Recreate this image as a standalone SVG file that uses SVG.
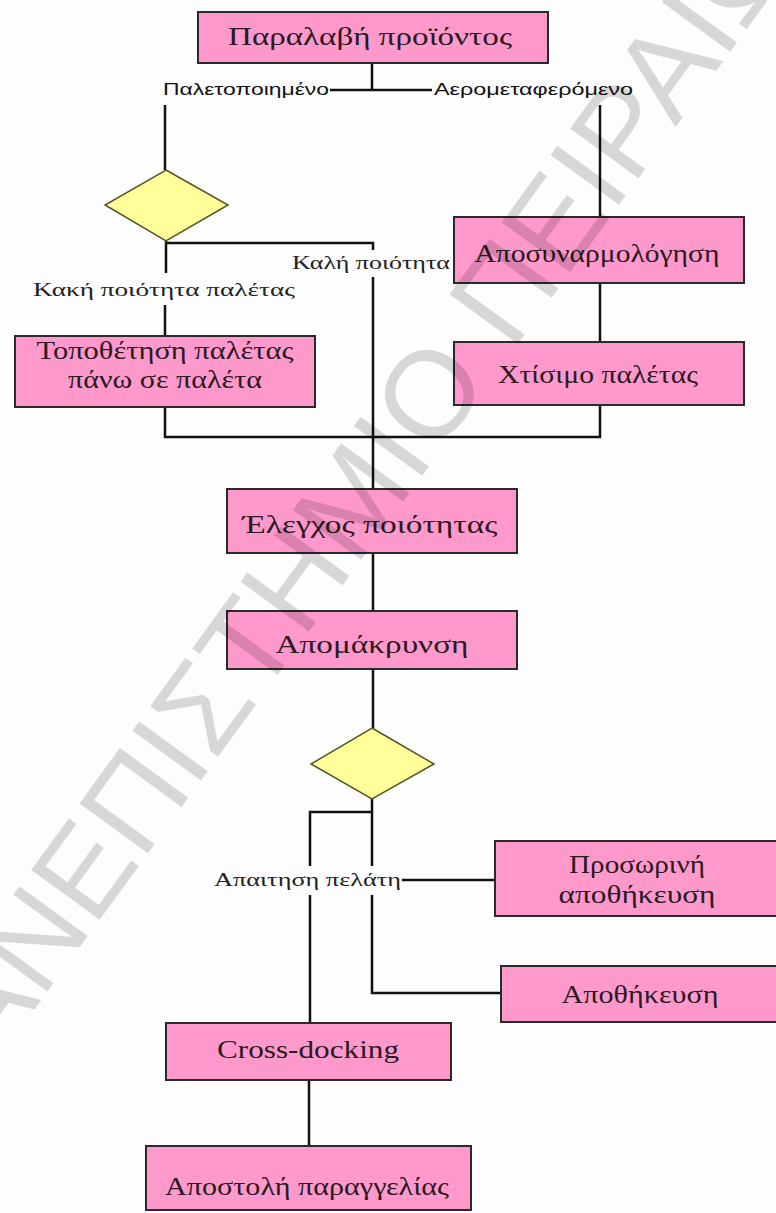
<svg xmlns="http://www.w3.org/2000/svg" width="776" height="1213" viewBox="0 0 776 1213">
<style>
.box{fill:#ff99cc;stroke:#2a2a2a;stroke-width:2}
.dia{fill:#ffff99;stroke:#55552a;stroke-width:1.5}
.ln{fill:none;stroke:#111;stroke-width:2.5}
.bt{font-family:"Liberation Serif","DejaVu Serif",serif;font-size:25px;fill:#2a1a22;text-anchor:middle}
.ls{font-family:"Liberation Sans","DejaVu Sans",sans-serif;font-size:16px;fill:#111}
.lt{font-family:"Liberation Serif","DejaVu Serif",serif;font-size:18px;fill:#222}
.wm{font-family:"Liberation Sans","DejaVu Sans",sans-serif;font-size:123px;fill:#000;fill-opacity:0.15}
</style>
<rect width="776" height="1213" fill="#fdfdfd"/>
<g id="connectors">
<path class="ln" d="M372,63V90M330,90H432"/>
<path class="ln" d="M165,105V170"/>
<path class="ln" d="M600,105V217"/>
<path class="ln" d="M166,241V273M166,243H373V250"/>
<path class="ln" d="M373,277V489"/>
<path class="ln" d="M165,305V336"/>
<path class="ln" d="M165,407V437H600V405"/>
<path class="ln" d="M600,283V342"/>
<path class="ln" d="M373,553V611"/>
<path class="ln" d="M373,669V728"/>
<path class="ln" d="M372,798V866M372,812H310V866"/>
<path class="ln" d="M310,895V1023"/>
<path class="ln" d="M372,895V993H501"/>
<path class="ln" d="M402,880H495"/>
<path class="ln" d="M309,1080V1146"/>
<text class="ls" x="163" y="95" textLength="166" lengthAdjust="spacingAndGlyphs">Παλετοποιημένο</text>
<text class="ls" x="434" y="95" textLength="199" lengthAdjust="spacingAndGlyphs">Αερομεταφερόμενο</text>
<text class="lt" x="292" y="269" textLength="158" lengthAdjust="spacingAndGlyphs">Καλή ποιότητα</text>
<text class="lt" x="33" y="296" textLength="262" lengthAdjust="spacingAndGlyphs">Κακή ποιότητα παλέτας</text>
<text class="lt" x="214" y="886" textLength="187" lengthAdjust="spacingAndGlyphs">Απαιτηση πελάτη</text>
</g>
<g id="n1"><rect class="box" x="198" y="12" width="350" height="51"/><text class="bt" x="370" y="45" textLength="284" lengthAdjust="spacingAndGlyphs">Παραλαβή προϊόντος</text></g>
<g id="d1"><polygon class="dia" points="166,170 228,205 166,241 105,205"/></g>
<g id="n2"><rect class="box" x="454" y="217" width="290" height="66"/><text class="bt" x="597" y="262" textLength="245" lengthAdjust="spacingAndGlyphs">Αποσυναρμολόγηση</text></g>
<g id="n3"><rect class="box" x="15" y="336" width="300" height="71"/><text class="bt" x="165" y="359" textLength="257" lengthAdjust="spacingAndGlyphs">Τοποθέτηση παλέτας</text><text class="bt" x="165" y="388" textLength="194" lengthAdjust="spacingAndGlyphs">πάνω σε παλέτα</text></g>
<g id="n4"><rect class="box" x="454" y="342" width="290" height="63"/><text class="bt" x="598" y="383" textLength="200" lengthAdjust="spacingAndGlyphs">Χτίσιμο παλέτας</text></g>
<g id="n5"><rect class="box" x="227" y="489" width="290" height="64"/><text class="bt" x="370" y="533" textLength="255" lengthAdjust="spacingAndGlyphs">Έλεγχος ποιότητας</text></g>
<g id="n6"><rect class="box" x="227" y="611" width="290" height="58"/><text class="bt" x="372" y="653" textLength="193" lengthAdjust="spacingAndGlyphs">Απομάκρυνση</text></g>
<g id="d2"><polygon class="dia" points="372,728 434,764 372,799 311,764"/></g>
<g id="n7"><rect class="box" x="495" y="841" width="290" height="75"/><text class="bt" x="637" y="873" textLength="136" lengthAdjust="spacingAndGlyphs">Προσωρινή</text><text class="bt" x="637" y="903" textLength="157" lengthAdjust="spacingAndGlyphs">αποθήκευση</text></g>
<g id="n8"><rect class="box" x="501" y="966" width="290" height="56"/><text class="bt" x="640" y="1003" textLength="157" lengthAdjust="spacingAndGlyphs">Αποθήκευση</text></g>
<g id="n9"><rect class="box" x="166" y="1023" width="285" height="57"/><text class="bt" x="308" y="1058" textLength="182" lengthAdjust="spacingAndGlyphs">Cross-docking</text></g>
<g id="n10"><rect class="box" x="146" y="1146" width="325" height="64"/><text class="bt" x="307" y="1195" textLength="284" lengthAdjust="spacingAndGlyphs">Αποστολή παραγγελίας</text></g>
<g id="watermark" transform="translate(428,393) rotate(-54)"><text class="wm" x="-889" y="44">ΠΑΝΕΠΙΣΤΗΜΙΟ ΠΕΙΡΑΙΩΣ</text></g>
</svg>
